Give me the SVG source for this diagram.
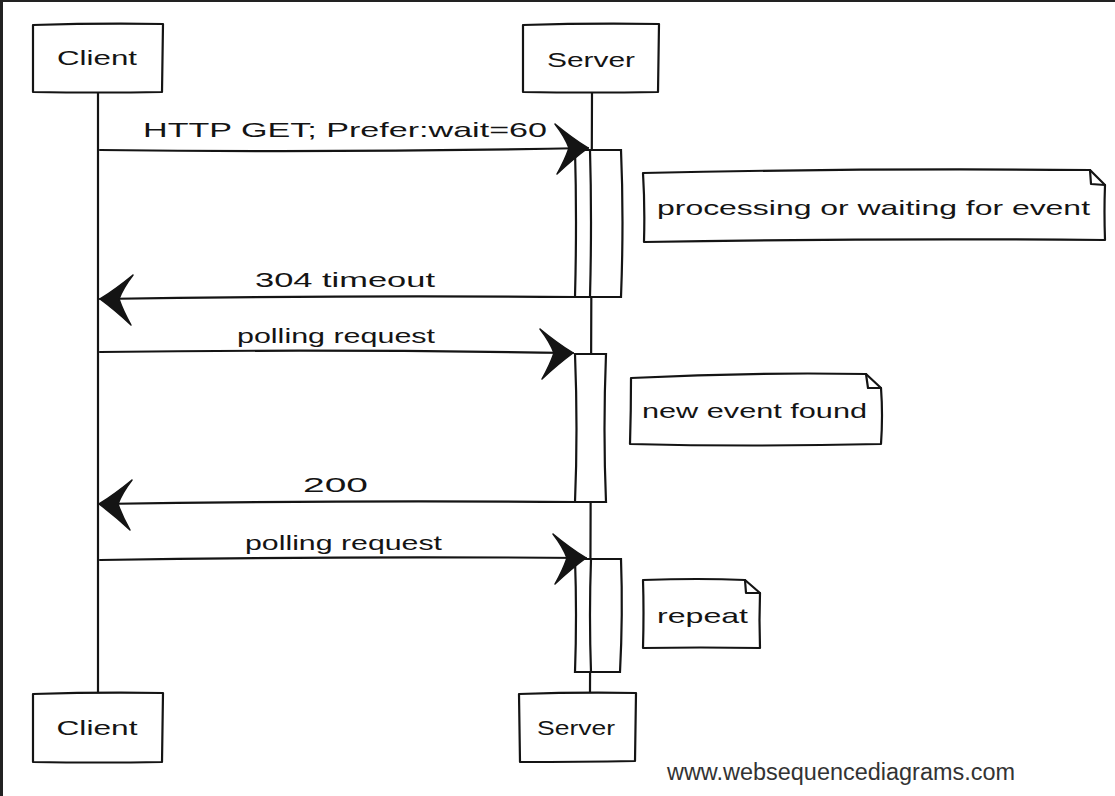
<svg xmlns="http://www.w3.org/2000/svg" width="1115" height="796" viewBox="0 0 1115 796">
  <style>
    .ink { fill: none; stroke: #141414; stroke-width: 2.2; stroke-linecap: round; stroke-linejoin: round; }
    .box { fill: #ffffff; stroke: #141414; stroke-width: 2.2; stroke-linejoin: round; }
    .hand { font-family: "Liberation Sans", "DejaVu Sans", sans-serif; fill: #141414; }
    .lbl { font-size: 21px; }
    .note { font-size: 21px; }
    .act { fill: #ffffff; stroke: #141414; stroke-width: 2.2; }
    .footer { font-family: "Liberation Sans", Arial, sans-serif; font-size: 23px; fill: #333333; }
  </style>
  <defs>
    <!-- barbed arrowhead, tip at origin, pointing right -->
    <path id="head" d="M0,0 Q-16,-10 -33,-24 Q-23,-11 -19,0 Q-23,12 -31,26 Q-15,11 0,0 Z" fill="#141414" stroke="#141414" stroke-width="1.5" stroke-linejoin="round"/>
  </defs>

  <rect x="0" y="0" width="1115" height="796" fill="#ffffff"/>
  <!-- frame edges -->
  <rect x="0" y="0" width="1115" height="2" fill="#222222"/>
  <rect x="0" y="0" width="3" height="796" fill="#222222"/>

  <!-- lifelines -->
  <g id="lifelines">
    <path class="ink" d="M98,92 Q99,400 98,693"/>
    <path class="ink" d="M592,92 Q591,400 590,693"/>
  </g>

  <!-- participants -->
  <g id="client-top">
    <path class="box" d="M33,25 Q100,23 163,24 L162,92 Q100,93 33,92 Z"/>
    <text class="hand lbl" x="97" y="65" text-anchor="middle" textLength="80" lengthAdjust="spacingAndGlyphs">Client</text>
  </g>
  <g id="server-top">
    <path class="box" d="M523,25 Q590,23 659,24 L658,92 Q590,93 523,92 Z"/>
    <text class="hand lbl" x="591" y="67" text-anchor="middle" textLength="88" lengthAdjust="spacingAndGlyphs">Server</text>
  </g>
  <g id="client-bottom">
    <path class="box" d="M33,694 Q100,692 163,693 L162,762 Q100,763 33,762 Z"/>
    <text class="hand lbl" x="97" y="735" text-anchor="middle" textLength="81" lengthAdjust="spacingAndGlyphs">Client</text>
  </g>
  <g id="server-bottom">
    <path class="box" d="M519,694 Q580,692 636,693 L635,761 Q580,762 520,762 Z"/>
    <text class="hand lbl" x="576" y="735" text-anchor="middle" textLength="78" lengthAdjust="spacingAndGlyphs">Server</text>
  </g>

  <!-- activation bars -->
  <g id="activation-1">
    <path class="act" d="M575,150 L621,150 Q624,220 621,297 L575,297 Q577,220 575,150 Z"/>
    <path class="ink" d="M590,150 Q592,220 590,297"/>
  </g>
  <g id="activation-2">
    <path class="act" d="M575,354 L606,354 Q603,430 606,502 L575,502 Q578,430 575,354 Z"/>
  </g>
  <g id="activation-3">
    <path class="act" d="M575,559 L621,559 Q623,615 620,672 L575,672 Q577,615 575,559 Z"/>
    <path class="ink" d="M591,559 Q589,615 591,672"/>
  </g>

  <!-- notes -->
  <g id="note-processing">
    <path class="box" d="M643,173 Q860,168 1090,170 L1105,185 Q1104,212 1105,240 Q870,238 644,242 Q645,205 643,173 Z"/>
    <path class="ink" d="M1090,170 L1091,184 L1105,185"/>
    <text class="hand note" x="657" y="215" textLength="433" lengthAdjust="spacingAndGlyphs">processing or waiting for event</text>
  </g>
  <g id="note-found">
    <path class="box" d="M631,378 Q750,372 866,374 L881,388 Q883,415 881,444 Q750,447 630,444 Q631,410 631,378 Z"/>
    <path class="ink" d="M866,374 L868,388 L881,388"/>
    <text class="hand note" x="642" y="418" textLength="225" lengthAdjust="spacingAndGlyphs">new event found</text>
  </g>
  <g id="note-repeat">
    <path class="box" d="M643,580 Q700,578 745,580 L760,593 Q759,620 760,648 Q700,647 643,648 Q644,612 643,580 Z"/>
    <path class="ink" d="M745,580 L746,593 L760,593"/>
    <text class="hand note" x="657" y="623" textLength="91" lengthAdjust="spacingAndGlyphs">repeat</text>
  </g>

  <!-- messages -->
  <g id="connectors">
    <path class="ink" d="M100,150 Q340,153 588,148"/>
    <use href="#head" transform="translate(588,148)"/>
    <text class="hand lbl" x="143" y="137" textLength="404" lengthAdjust="spacingAndGlyphs">HTTP GET; Prefer:wait=60</text>

    <path class="ink" d="M577,297 Q340,295 100,299"/>
    <use href="#head" transform="translate(100,299) scale(-1,1)"/>
    <text class="hand lbl" x="255" y="287" textLength="180" lengthAdjust="spacingAndGlyphs">304 timeout</text>

    <path class="ink" d="M100,352 Q330,349 573,353"/>
    <use href="#head" transform="translate(573,353)"/>
    <text class="hand lbl" x="237" y="343" textLength="198" lengthAdjust="spacingAndGlyphs">polling request</text>

    <path class="ink" d="M577,502 Q340,500 99,504"/>
    <use href="#head" transform="translate(99,504) scale(-1,1)"/>
    <text class="hand lbl" x="303" y="492" textLength="65" lengthAdjust="spacingAndGlyphs">200</text>

    <path class="ink" d="M100,560 Q340,556 586,558"/>
    <use href="#head" transform="translate(586,558)"/>
    <text class="hand lbl" x="245" y="550" textLength="197" lengthAdjust="spacingAndGlyphs">polling request</text>
  </g>

  <text class="footer" x="667" y="780" textLength="348" lengthAdjust="spacingAndGlyphs">www.websequencediagrams.com</text>
</svg>
